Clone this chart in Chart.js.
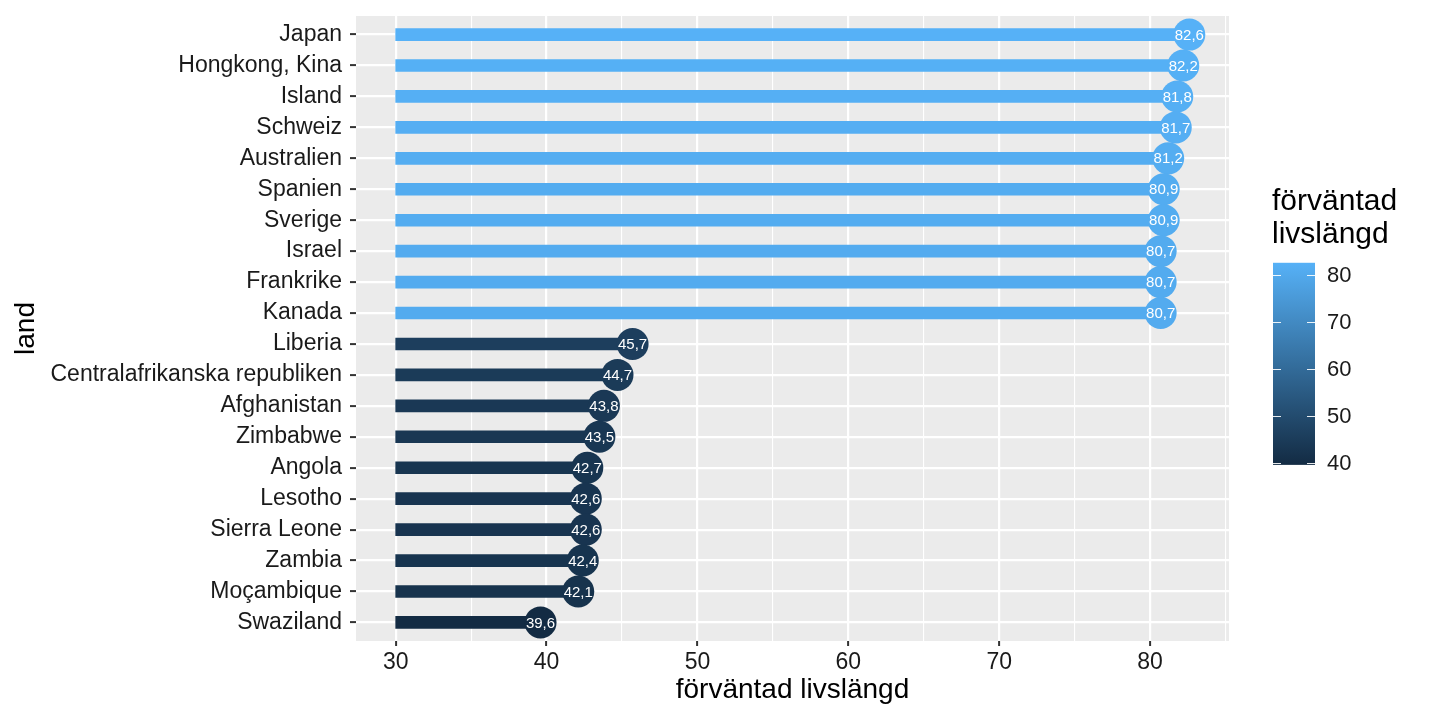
<!DOCTYPE html>
<html>
<head>
<meta charset="utf-8">
<script src="https://cdn.jsdelivr.net/npm/chart.js@4/dist/chart.umd.min.js"></script>
<style>
  html, body { margin: 0; padding: 0; background: #fff; }
  #wrap { width: 1440px; height: 720px; }
</style>
</head>
<body>
<div id="wrap"><canvas id="lifeChart" width="1440" height="720"></canvas></div>
<script>
const countries = ['Japan', 'Hongkong, Kina', 'Island', 'Schweiz', 'Australien', 'Spanien', 'Sverige',
  'Israel', 'Frankrike', 'Kanada', 'Liberia', 'Centralafrikanska republiken', 'Afghanistan', 'Zimbabwe',
  'Angola', 'Lesotho', 'Sierra Leone', 'Zambia', 'Moçambique', 'Swaziland'];
const lifeExp = [82.6, 82.2, 81.8, 81.7, 81.2, 80.9, 80.9, 80.7, 80.7, 80.7,
  45.7, 44.7, 43.8, 43.5, 42.7, 42.6, 42.6, 42.4, 42.1, 39.6];
const legendTicks = [40, 50, 60, 70, 80];

const baseline = 30;
const lowColor = [19, 43, 67];    // #132B43
const highColor = [86, 177, 247]; // #56B1F7
const vMin = Math.min(...lifeExp);
const vMax = Math.max(...lifeExp);

function colorFor(v) {
  const t = (v - vMin) / (vMax - vMin);
  const c = lowColor.map((lo, i) => Math.round(lo + (highColor[i] - lo) * t));
  return 'rgb(' + c.join(',') + ')';
}
const fmt = v => v.toFixed(1).replace('.', ',');

const FONT = '"Liberation Sans", Arial, sans-serif';

// grey panel behind the grid
const panelBg = {
  id: 'panelBg',
  beforeDraw(chart) {
    const { ctx, chartArea: a } = chart;
    ctx.save();
    ctx.fillStyle = '#EBEBEB';
    ctx.fillRect(a.left, a.top, a.right - a.left, a.bottom - a.top);
    ctx.restore();
  }
};

// value text inside the circles
const pointLabels = {
  id: 'pointLabels',
  afterDatasetsDraw(chart) {
    const { ctx } = chart;
    const meta = chart.getDatasetMeta(1);
    ctx.save();
    ctx.font = '15px ' + FONT;
    ctx.fillStyle = '#fff';
    ctx.textAlign = 'center';
    ctx.textBaseline = 'middle';
    meta.data.forEach((pt, i) => {
      ctx.fillText(fmt(lifeExp[i]), pt.x, pt.y + 1);
    });
    ctx.restore();
  }
};

// colour bar legend on the right
const colorBar = {
  id: 'colorBar',
  afterDraw(chart) {
    const { ctx } = chart;
    const x0 = 1273, x1 = 1315;
    const yOf = v => 463 - (v - 40) * 4.7;
    const yTop = yOf(vMax), yBot = yOf(vMin);
    ctx.save();
    ctx.fillStyle = '#000';
    ctx.font = '30px ' + FONT;
    ctx.textAlign = 'left';
    ctx.textBaseline = 'alphabetic';
    ctx.fillText('förväntad', 1272, 210);
    ctx.fillText('livslängd', 1272, 243);

    const grad = ctx.createLinearGradient(0, yBot, 0, yTop);
    grad.addColorStop(0, colorFor(vMin));
    grad.addColorStop(0.5, colorFor((vMin + vMax) / 2));
    grad.addColorStop(1, colorFor(vMax));
    ctx.fillStyle = grad;
    ctx.fillRect(x0, yTop, x1 - x0, yBot - yTop);

    ctx.strokeStyle = 'rgba(255,255,255,0.9)';
    ctx.lineWidth = 1;
    ctx.font = '22px ' + FONT;
    ctx.fillStyle = '#1a1a1a';
    ctx.textBaseline = 'middle';
    legendTicks.forEach(v => {
      const y = Math.round(yOf(v)) + 0.5;
      ctx.beginPath();
      ctx.moveTo(x0, y); ctx.lineTo(x0 + 8, y);
      ctx.moveTo(x1 - 8, y); ctx.lineTo(x1, y);
      ctx.stroke();
      ctx.fillText(String(v), 1327, yOf(v) + 1);
    });
    ctx.restore();
  }
};

const ctx = document.getElementById('lifeChart').getContext('2d');
new Chart(ctx, {
  data: {
    datasets: [
      {
        type: 'bar',
        data: lifeExp.map((v, i) => ({ x: [baseline, v], y: i })),
        backgroundColor: lifeExp.map(colorFor),
        barThickness: 12,
        borderSkipped: false,
        order: 2
      },
      {
        type: 'line',
        data: lifeExp.map((v, i) => ({ x: v, y: i })),
        showLine: false,
        pointRadius: 16,
        pointHoverRadius: 16,
        pointBorderWidth: 0,
        pointBackgroundColor: lifeExp.map(colorFor),
        order: 1
      }
    ]
  },
  options: {
    indexAxis: 'y',
    responsive: false,
    animation: false,
    events: [],
    layout: { padding: { top: 14, right: 211, bottom: 0, left: 0 } },
    plugins: { legend: { display: false }, tooltip: { enabled: false } },
    scales: {
      x: {
        type: 'linear',
        min: 27.37,
        max: 85.23,
        afterFit(scale) {
          scale.height = 79;
          scale.paddingLeft = 0;
          scale.paddingRight = 0;
        },
        border: { display: false },
        grid: {
          color: '#fff',
          lineWidth: c => (c.tick && c.tick.value % 10 === 0 ? 2.2 : 1.1),
          tickColor: c => (c.tick && c.tick.value % 10 === 0 ? '#333' : 'rgba(0,0,0,0)'),
          tickLength: 5,
          tickWidth: 2
        },
        ticks: {
          stepSize: 5,
          includeBounds: false,
          autoSkip: false,
          maxRotation: 0,
          padding: 3,
          color: '#1a1a1a',
          font: { family: FONT, size: 23 },
          callback: v => (v % 10 === 0 ? v : '')
        },
        title: {
          display: true,
          text: 'förväntad livslängd',
          color: '#000',
          font: { family: FONT, size: 28 },
          padding: { top: 13, bottom: 13 }
        }
      },
      y: {
        type: 'linear',
        min: -0.6,
        max: countries.length - 0.4,
        reverse: true,
        offset: false,
        afterFit(scale) {
          scale.width = 356;
          scale.paddingTop = 0;
          scale.paddingBottom = 0;
        },
        border: { display: false },
        grid: {
          offset: false,
          color: '#fff',
          lineWidth: 2.2,
          tickColor: '#333',
          tickLength: 6,
          tickWidth: 2
        },
        ticks: {
          stepSize: 1,
          includeBounds: false,
          autoSkip: false,
          padding: 8,
          color: '#1a1a1a',
          font: { family: FONT, size: 23 },
          callback: v => countries[v]
        },
        title: {
          display: true,
          text: 'land',
          color: '#000',
          font: { family: FONT, size: 28 },
          padding: { top: 9, bottom: 9 }
        }
      }
    }
  },
  plugins: [panelBg, pointLabels, colorBar]
});
</script>
</body>
</html>
